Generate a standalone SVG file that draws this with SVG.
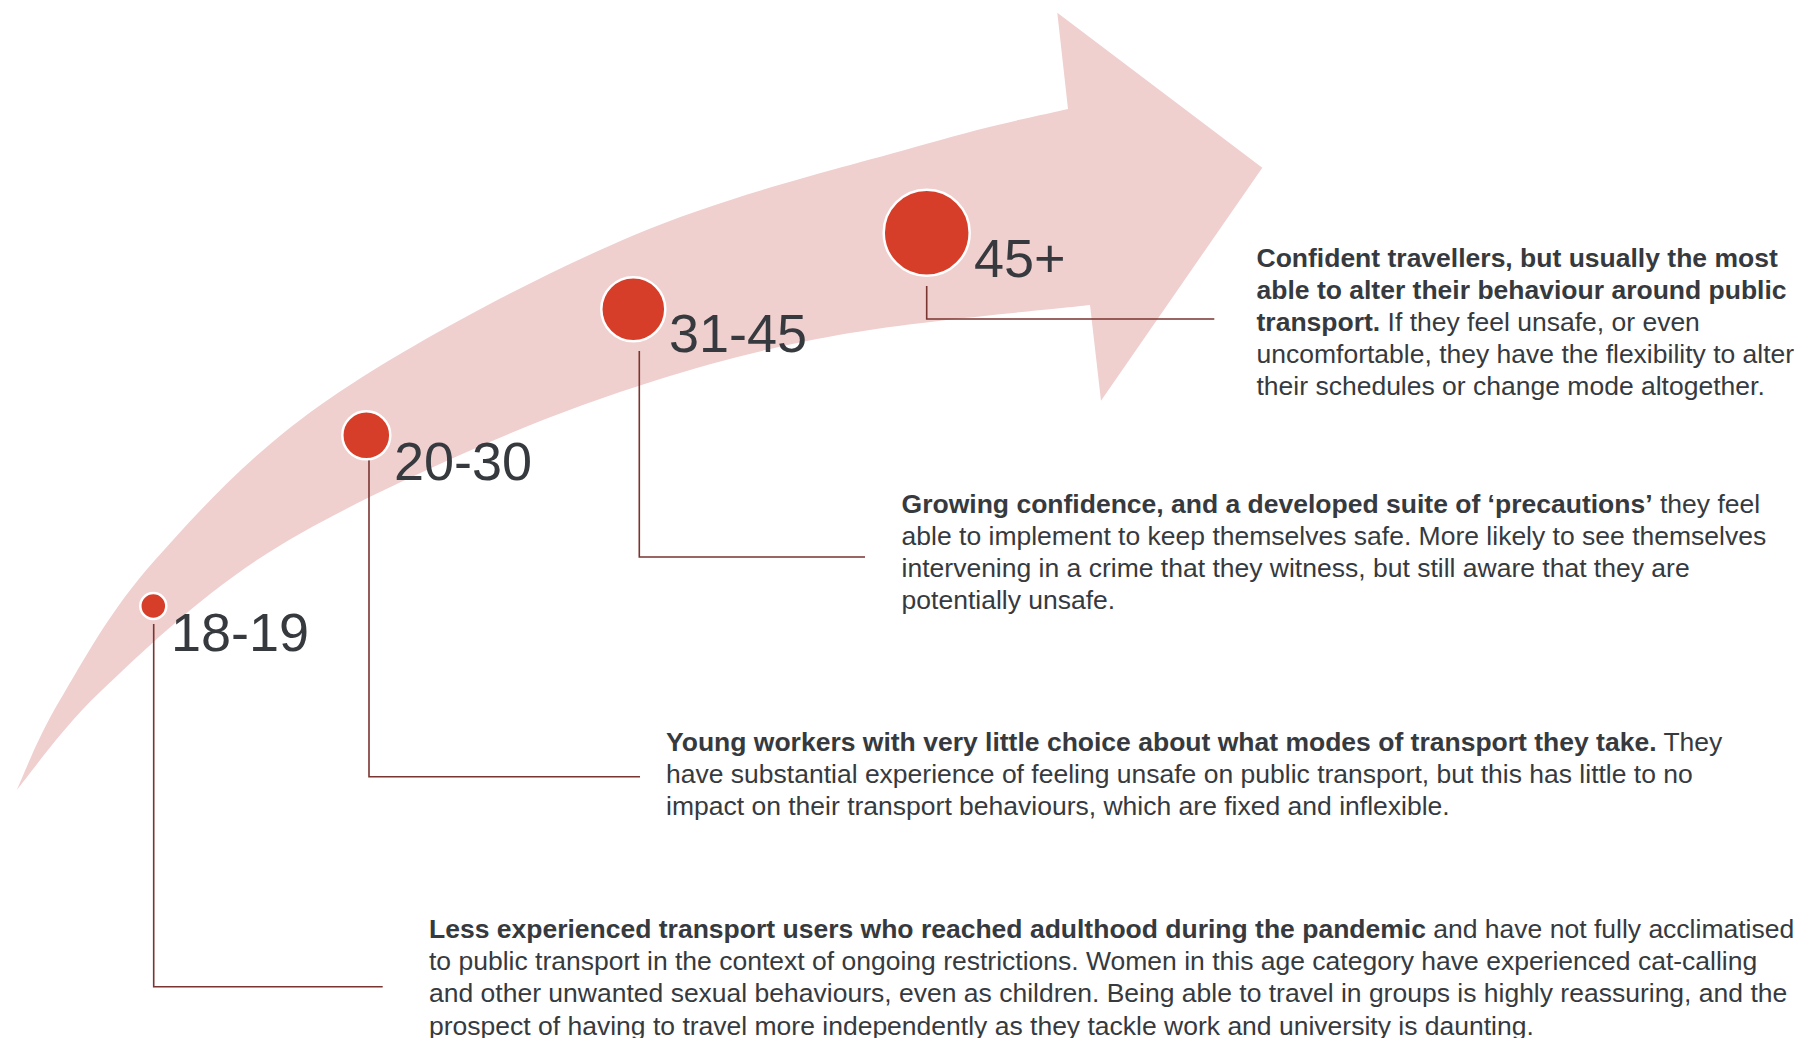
<svg xmlns="http://www.w3.org/2000/svg" width="1803" height="1038" viewBox="0 0 1803 1038">
  <style>
    .band { fill: #F0CFCF; }
    .dot { fill: #D63E2A; stroke: #FFFFFF; stroke-width: 2.5; }
    .age { font-family: "Liberation Sans", Arial, sans-serif; font-size: 54px; fill: #363A3E; }
    .desc { font-family: "Liberation Sans", Arial, sans-serif; font-size: 26.5px; fill: #363A3E; }
    .desc .b { font-weight: bold; }
    .leader { fill: none; stroke: #7A3530; stroke-width: 1.6; }
  </style>

  <!-- curved progression arrow -->
  <g id="arrow">
    <path class="band" d="M 16.7,790 C 23.9,775 37,738.3 60,700 C 83,661.7 109.7,610.5 155,560 C 200.3,509.5 252.5,451 332,397 C 411.5,343 533,278.2 632,236 C 731,193.8 853.3,165.2 926,144 C 998.7,122.8 1044.3,114.8 1068,109 L 1057.3,12.7 L 1262.3,167.7 L 1101,400.7 L 1090,305 C 1050,309.7 922.2,320.5 850,333 C 777.8,345.5 722,359.7 657,380 C 592,400.3 526.7,425 460,455 C 393.3,485 317,520.5 257,560 C 197,599.5 140,653.7 100,692 C 60,730.3 30.6,773.7 16.7,790 Z"/>
  </g>

  <!-- leader lines from each marker to its description -->
  <g id="connectors">
    <polyline class="leader" points="153.7,624 153.7,986.7 382.7,986.7"/>
    <polyline class="leader" points="369,455 369,776.7 640,776.7"/>
    <polyline class="leader" points="639.3,351 639.3,557 865,557"/>
    <polyline class="leader" points="926.7,286 926.7,319 1214.3,319"/>
  </g>

  <g id="age-18-19">
    <circle class="dot" cx="153.3" cy="606" r="13"/>
    <text class="age" x="171" y="650.7">18-19</text>
    <text class="desc">
      <tspan x="429" y="938"><tspan class="b">Less experienced transport users who reached adulthood during the pandemic</tspan> and have not fully acclimatised</tspan>
      <tspan x="429" y="970.2">to public transport in the context of ongoing restrictions. Women in this age category have experienced cat-calling</tspan>
      <tspan x="429" y="1002.4">and other unwanted sexual behaviours, even as children. Being able to travel in groups is highly reassuring, and the</tspan>
      <tspan x="429" y="1034.6">prospect of having to travel more independently as they tackle work and university is daunting.</tspan>
    </text>
  </g>

  <g id="age-20-30">
    <circle class="dot" cx="366.3" cy="435.3" r="24"/>
    <text class="age" x="394" y="480">20-30</text>
    <text class="desc">
      <tspan x="666" y="750.8"><tspan class="b">Young workers with very little choice about what modes of transport they take.</tspan> They</tspan>
      <tspan x="666" y="783">have substantial experience of feeling unsafe on public transport, but this has little to no</tspan>
      <tspan x="666" y="815.2">impact on their transport behaviours, which are fixed and inflexible.</tspan>
    </text>
  </g>

  <g id="age-31-45">
    <circle class="dot" cx="633.3" cy="309.3" r="32"/>
    <text class="age" x="669" y="352.3">31-45</text>
    <text class="desc">
      <tspan x="901.6" y="512.7"><tspan class="b">Growing confidence, and a developed suite of ‘precautions’</tspan> they feel</tspan>
      <tspan x="901.6" y="544.9">able to implement to keep themselves safe. More likely to see themselves</tspan>
      <tspan x="901.6" y="577.1">intervening in a crime that they witness, but still aware that they are</tspan>
      <tspan x="901.6" y="609.3">potentially unsafe.</tspan>
    </text>
  </g>

  <g id="age-45-plus">
    <circle class="dot" cx="926.7" cy="232.8" r="43"/>
    <text class="age" x="974" y="276.7">45+</text>
    <text class="desc">
      <tspan x="1256.5" y="266.7" class="b">Confident travellers, but usually the most</tspan>
      <tspan x="1256.5" y="298.8" class="b">able to alter their behaviour around public</tspan>
      <tspan x="1256.5" y="330.9"><tspan class="b">transport.</tspan> If they feel unsafe, or even</tspan>
      <tspan x="1256.5" y="363">uncomfortable, they have the flexibility to alter</tspan>
      <tspan x="1256.5" y="395.1">their schedules or change mode altogether.</tspan>
    </text>
  </g>
</svg>
